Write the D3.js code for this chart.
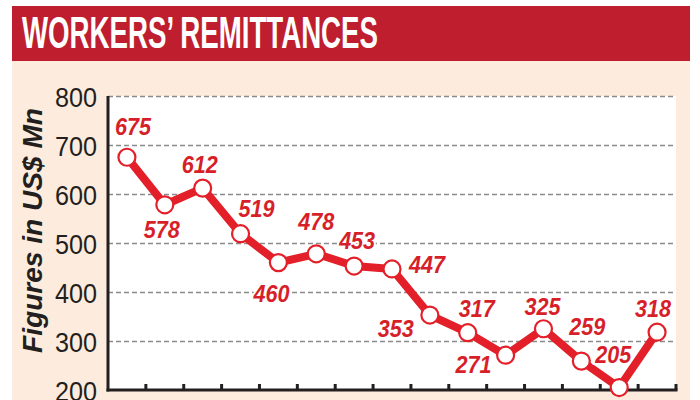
<!DOCTYPE html>
<html><head><meta charset="utf-8">
<script src="https://cdn.jsdelivr.net/npm/d3@7"></script>
<style>
html,body{margin:0;padding:0;background:#fff;}
svg{display:block;}
</style></head>
<body>
<svg id="c" width="700" height="400"></svg>
<script>
const title = "WORKERS\u2019 REMITTANCES";
const yTitle = "Figures in US$ Mn";
const periods = ["P1","P2","P3","P4","P5","P6","P7","P8","P9","P10","P11","P12","P13","P14","P15"];
const values = [675,578,612,519,460,478,453,447,353,317,271,325,259,205,318];
const yTicks = [200,300,400,500,600,700,800];
// label placement: offset of label centre/baseline from the point, in px
const labelDx = [6,-3,-3,16,-7,0,3,35,-34,9,-32,-1,6,-6,-4];
const labelDy = [-22,33,-15,-17,39,-24,-17,4,22,-16,18,-14,-26,-25,-15];

const svg = d3.select("#c");
const red = "#e3202a";
const plot = {l:108, r:676, t:96, b:390};

// panels
svg.append("rect").attr("x",12).attr("y",6).attr("width",678).attr("height",394).attr("fill","#fdecdd");
svg.append("rect").attr("x",12).attr("y",6).attr("width",678).attr("height",55).attr("fill","#be1e2d");
svg.append("text").text(title)
  .attr("x",22).attr("y",48)
  .attr("fill","#fff")
  .attr("font-family","'Liberation Sans Narrow', 'Liberation Sans', sans-serif")
  .attr("font-weight","bold").attr("font-size",44)
  .attr("textLength",356).attr("lengthAdjust","spacingAndGlyphs");

svg.append("rect").attr("x",plot.l).attr("y",plot.t).attr("width",plot.r-plot.l).attr("height",plot.b-plot.t).attr("fill","#fff");

const x = d3.scaleBand().domain(periods).range([plot.l, plot.r]).padding(0);
const y = d3.scaleLinear().domain([200,800]).range([plot.b, plot.t]);

// gridlines
const grid = svg.append("g").attr("transform",`translate(${plot.l},0)`)
  .call(d3.axisLeft(y).tickValues(yTicks.filter(v=>v>200)).tickSize(-(plot.r-plot.l)).tickFormat(""));
grid.select(".domain").remove();
grid.selectAll("line").attr("stroke","#8a8a8a").attr("stroke-width",1.6).attr("stroke-dasharray","5,3");

// y tick labels
const yAx = svg.append("g").attr("transform",`translate(${plot.l-11},0)`)
  .call(d3.axisLeft(y).tickValues(yTicks).tickSize(0).tickPadding(0));
yAx.select(".domain").remove();
yAx.selectAll("text")
  .attr("font-family","'Liberation Sans Narrow', 'Liberation Sans', sans-serif")
  .attr("font-size",28).attr("fill","#231f20").attr("dy","0.36em")
  .attr("textLength",42).attr("lengthAdjust","spacingAndGlyphs");

// y title
svg.append("text").text(yTitle)
  .attr("transform",`translate(42,${(108+353)/2}) rotate(-90)`)
  .attr("text-anchor","middle")
  .attr("font-family","'Liberation Sans Narrow', 'Liberation Sans', sans-serif")
  .attr("font-weight","bold").attr("font-style","italic").attr("font-size",28)
  .attr("fill","#231f20")
  .attr("textLength",245).attr("lengthAdjust","spacingAndGlyphs");

// bottom ticks (band boundaries)
const tickXs = periods.map(p => x(p) + x.bandwidth());
svg.append("g").selectAll("line").data(tickXs).join("line")
  .attr("x1",d=>d).attr("x2",d=>d).attr("y1",plot.b-6).attr("y2",plot.b)
  .attr("stroke","#231f20").attr("stroke-width",3);

// axes lines
svg.append("line").attr("x1",plot.l).attr("x2",plot.l).attr("y1",plot.t).attr("y2",plot.b+1.5)
  .attr("stroke","#231f20").attr("stroke-width",3);
svg.append("line").attr("x1",plot.l-1.5).attr("x2",plot.r+1.5).attr("y1",plot.b).attr("y2",plot.b)
  .attr("stroke","#231f20").attr("stroke-width",3);

// line
const cx = (d,i) => x(periods[i]) + x.bandwidth()/2;
const line = d3.line().x((d,i)=>cx(d,i)).y(d=>y(d));
svg.append("path").datum(values).attr("d",line)
  .attr("fill","none").attr("stroke",red).attr("stroke-width",8).attr("stroke-linejoin","round");

svg.append("g").selectAll("circle").data(values).join("circle")
  .attr("cx",(d,i)=>cx(d,i)).attr("cy",d=>y(d)).attr("r",8.5)
  .attr("fill","#fff").attr("stroke",red).attr("stroke-width",2.2);

// value labels
svg.append("g").selectAll("text").data(values).join("text")
  .text(d=>d)
  .attr("x",(d,i)=>cx(d,i)+labelDx[i]).attr("y",(d,i)=>y(d)+labelDy[i])
  .attr("text-anchor","middle")
  .attr("font-family","'Liberation Sans Narrow', 'Liberation Sans', sans-serif")
  .attr("font-weight","bold").attr("font-style","italic").attr("font-size",24)
  .attr("fill","#d71f2a")
  .attr("stroke","#fff").attr("stroke-width",4).attr("paint-order","stroke")
  .attr("textLength",36).attr("lengthAdjust","spacingAndGlyphs");
</script>
</body></html>
